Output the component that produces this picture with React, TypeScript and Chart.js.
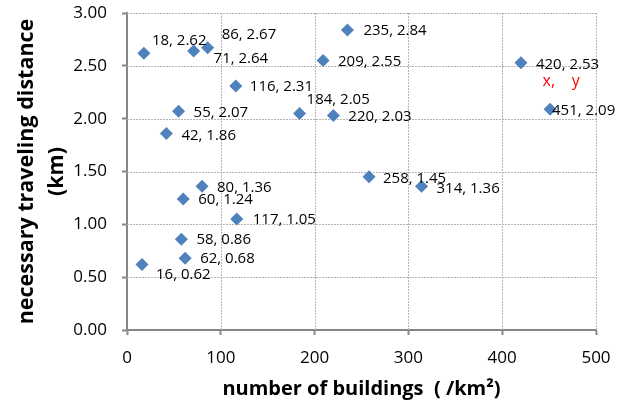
import { useEffect, useRef } from 'react';
import { Chart, registerables } from 'chart.js';

Chart.register(...registerables);

// number of buildings (/km²)
const buildings = [18, 86, 71, 116, 55, 42, 184, 220, 209, 235, 420, 451, 258, 314, 80, 60, 117, 58, 62, 16];
// necessary traveling distance (km)
const distances = [2.62, 2.67, 2.64, 2.31, 2.07, 1.86, 2.05, 2.03, 2.55, 2.84, 2.53, 2.09, 1.45, 1.36, 1.36, 1.24, 1.05, 0.86, 0.68, 0.62];

const xTickValues = [0, 100, 200, 300, 400, 500];
const yTickValues = [0, 0.5, 1, 1.5, 2, 2.5, 3];

// label nudges (pixels) for each point's data label
const labelNudges: [number, number][] = [
  [8, -12], [14, -13], [20, 8], [14, 1], [15, 1], [15, 2], [7, -14], [15, 1],
  [15, 1], [16, 1], [15, 2], [2, 2], [14, 2], [15, 2], [15, 1], [15, 1],
  [16, 1], [15, 1], [15, 1], [14, 10],
];

const annotationText = 'x,    y';
const annotationX = 443;
const annotationY = 2.35;

export default function App() {
  const ref = useRef<HTMLCanvasElement>(null);

  useEffect(() => {
    document.body.style.margin = '0';
    const canvas = ref.current;
    if (!canvas) return;

    const dottedGrid = {
      id: 'dottedGrid',
      beforeDatasetsDraw(chart: any) {
        const ctx = chart.ctx;
        const { left, right, top, bottom } = chart.chartArea;
        const xs = chart.scales.x;
        const ys = chart.scales.y;
        ctx.save();
        ctx.strokeStyle = '#B4B4B4';
        ctx.lineWidth = 1;
        ctx.setLineDash([2, 1]);
        xTickValues.forEach((v) => {
          if (v === xTickValues[0]) return;
          const px = Math.round(xs.getPixelForValue(v)) + 0.5;
          ctx.beginPath();
          ctx.moveTo(px, top);
          ctx.lineTo(px, bottom);
          ctx.stroke();
        });
        yTickValues.forEach((v) => {
          if (v === yTickValues[0]) return;
          const py = Math.round(ys.getPixelForValue(v)) + 0.5;
          ctx.beginPath();
          ctx.moveTo(left, py);
          ctx.lineTo(right, py);
          ctx.stroke();
        });
        ctx.restore();
      },
    };

    const labelPlugin = {
      id: 'pointLabels',
      afterDatasetsDraw(chart: any) {
        const ctx = chart.ctx;
        const meta = chart.getDatasetMeta(0);
        ctx.save();
        ctx.font = '15px "Open Sans"';
        ctx.fillStyle = '#000000';
        ctx.textAlign = 'left';
        ctx.textBaseline = 'middle';
        meta.data.forEach((el: any, i: number) => {
          const [dx, dy] = labelNudges[i];
          ctx.fillText(`${buildings[i]}, ${distances[i].toFixed(2)}`, el.x + dx, el.y + dy);
        });
        ctx.fillStyle = '#FF0000';
        ctx.font = '16px "Open Sans"';
        ctx.fillText(
          annotationText,
          chart.scales.x.getPixelForValue(annotationX),
          chart.scales.y.getPixelForValue(annotationY)
        );
        ctx.restore();
      },
    };

    const zeroPad = (s: any) => {
      s.paddingTop = 0;
      s.paddingBottom = 0;
      s.paddingLeft = 0;
      s.paddingRight = 0;
    };

    const chart = new Chart(canvas, {
      type: 'scatter',
      data: {
        datasets: [
          {
            data: buildings.map((b, i) => ({ x: b, y: distances[i] })),
            pointStyle: 'rectRot',
            pointRadius: 6.5,
            pointHoverRadius: 6.5,
            backgroundColor: '#4F81BD',
            borderColor: '#4F81BD',
            borderWidth: 0,
          },
        ],
      },
      options: {
        responsive: false,
        animation: false,
        events: [],
        layout: { padding: { top: 13, right: 33, left: 0, bottom: 0 } },
        plugins: { legend: { display: false }, tooltip: { enabled: false } },
        scales: {
          x: {
            type: 'linear',
            min: 0,
            max: 500,
            afterFit: (s: any) => { s.height = 75; zeroPad(s); },
            afterBuildTicks: (s: any) => { s.ticks = xTickValues.map((v) => ({ value: v })); },
            ticks: {
              color: '#000000',
              font: { family: 'Open Sans', size: 17 },
              padding: 13,
              callback: (v: any) => String(v),
            },
            grid: {
              drawOnChartArea: false,
              color: '#BFBFBF',
              lineWidth: 1,
              tickLength: 5,
              tickColor: '#868686',
              tickWidth: 2,
            },
            border: { color: '#868686', width: 2 },
            title: {
              display: true,
              text: 'number of buildings  ( /km²)',
              color: '#000000',
              font: { family: 'Open Sans', size: 20, weight: 'bold', lineHeight: 1.2 },
              padding: { top: 0, bottom: 4 },
            },
          },
          y: {
            type: 'linear',
            min: 0,
            max: 3,
            afterFit: (s: any) => { s.width = 127; zeroPad(s); },
            afterBuildTicks: (s: any) => { s.ticks = yTickValues.map((v) => ({ value: v })); },
            ticks: {
              color: '#000000',
              font: { family: 'Open Sans', size: 17 },
              padding: 15,
              callback: (v: any) => Number(v).toFixed(2),
            },
            grid: {
              drawOnChartArea: false,
              color: '#BFBFBF',
              lineWidth: 1,
              tickLength: 5,
              tickColor: '#868686',
              tickWidth: 2,
            },
            border: { color: '#868686', width: 2 },
            title: {
              display: true,
              text: ['necessary traveling distance', '(km)'],
              color: '#000000',
              font: { family: 'Open Sans', size: 21.5, weight: 'bold', lineHeight: 1.4 },
              padding: { top: 12, bottom: 0 },
            },
          },
        },
      },
      plugins: [dottedGrid, labelPlugin],
    });

    return () => chart.destroy();
  }, []);

  return <canvas ref={ref} width={629} height={405} style={{ display: 'block' }} />;
}
